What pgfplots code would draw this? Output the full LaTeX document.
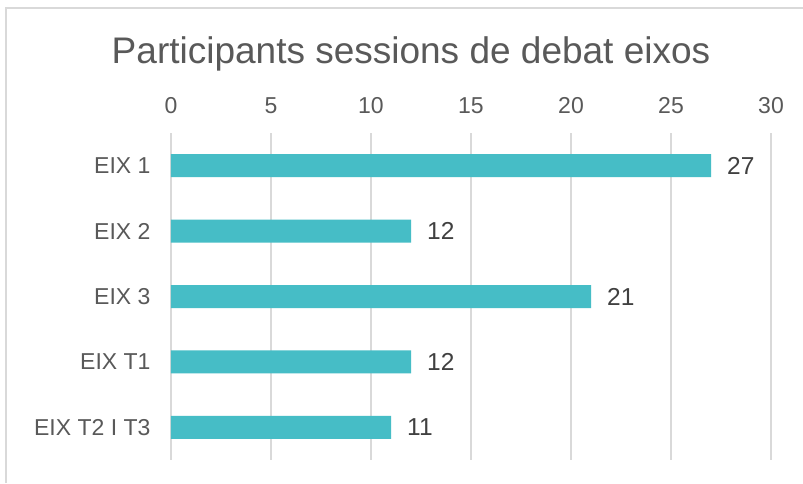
\documentclass[border=0pt]{standalone}
\usepackage{fontspec}
\setmainfont{Liberation Sans}
\usepackage{pgfplots}
\pgfplotsset{compat=1.18}
\definecolor{barc}{HTML}{46BDC6}
\definecolor{txt}{HTML}{595959}
\definecolor{lbl}{HTML}{404040}
\definecolor{gridc}{HTML}{D9D9D9}
\begin{document}
\begin{tikzpicture}
\useasboundingbox (0,0) rectangle (803pt,-483pt);
\fill[white] (0,0) rectangle (803pt,-483pt);
\draw[gridc, line width=1.5pt] (6pt,-483pt) -- (6pt,-8pt) -- (803pt,-8pt);
\node[anchor=base, text=txt, inner sep=0pt, font=\fontsize{37}{44}\selectfont] at (411pt,-63pt) {Participants sessions de debat eixos};
\begin{axis}[
  at={(171pt,-460pt)}, anchor=south west,
  scale only axis, width=600pt, height=327pt,
  xbar, bar width=23pt,
  xmin=0, xmax=30, xtick={0,5,...,30},
  ymin=-0.5, ymax=4.5, ytick={0,...,4}, y dir=reverse,
  yticklabels={EIX 1,EIX 2,EIX 3,EIX T1,EIX T2 I T3},
  xticklabel pos=right,
  /pgf/number format/assume math mode=true,
  axis line style={draw=none}, major tick length=0pt,
  xmajorgrids, grid style={gridc, line width=1.5pt},
  tick label style={text=txt, font=\fontsize{23}{27}\selectfont},
  xticklabel style={anchor=base, yshift=0pt},
  xticklabel shift=20pt, yticklabel shift=17pt,
  nodes near coords,
  nodes near coords style={text=lbl, font=\fontsize{24.5}{29}\selectfont, anchor=west, inner sep=0pt, xshift=16pt},
]
\addplot[fill=barc, draw=none] coordinates {(27,0) (12,1) (21,2) (12,3) (11,4)};
\end{axis}
\end{tikzpicture}
\end{document}
